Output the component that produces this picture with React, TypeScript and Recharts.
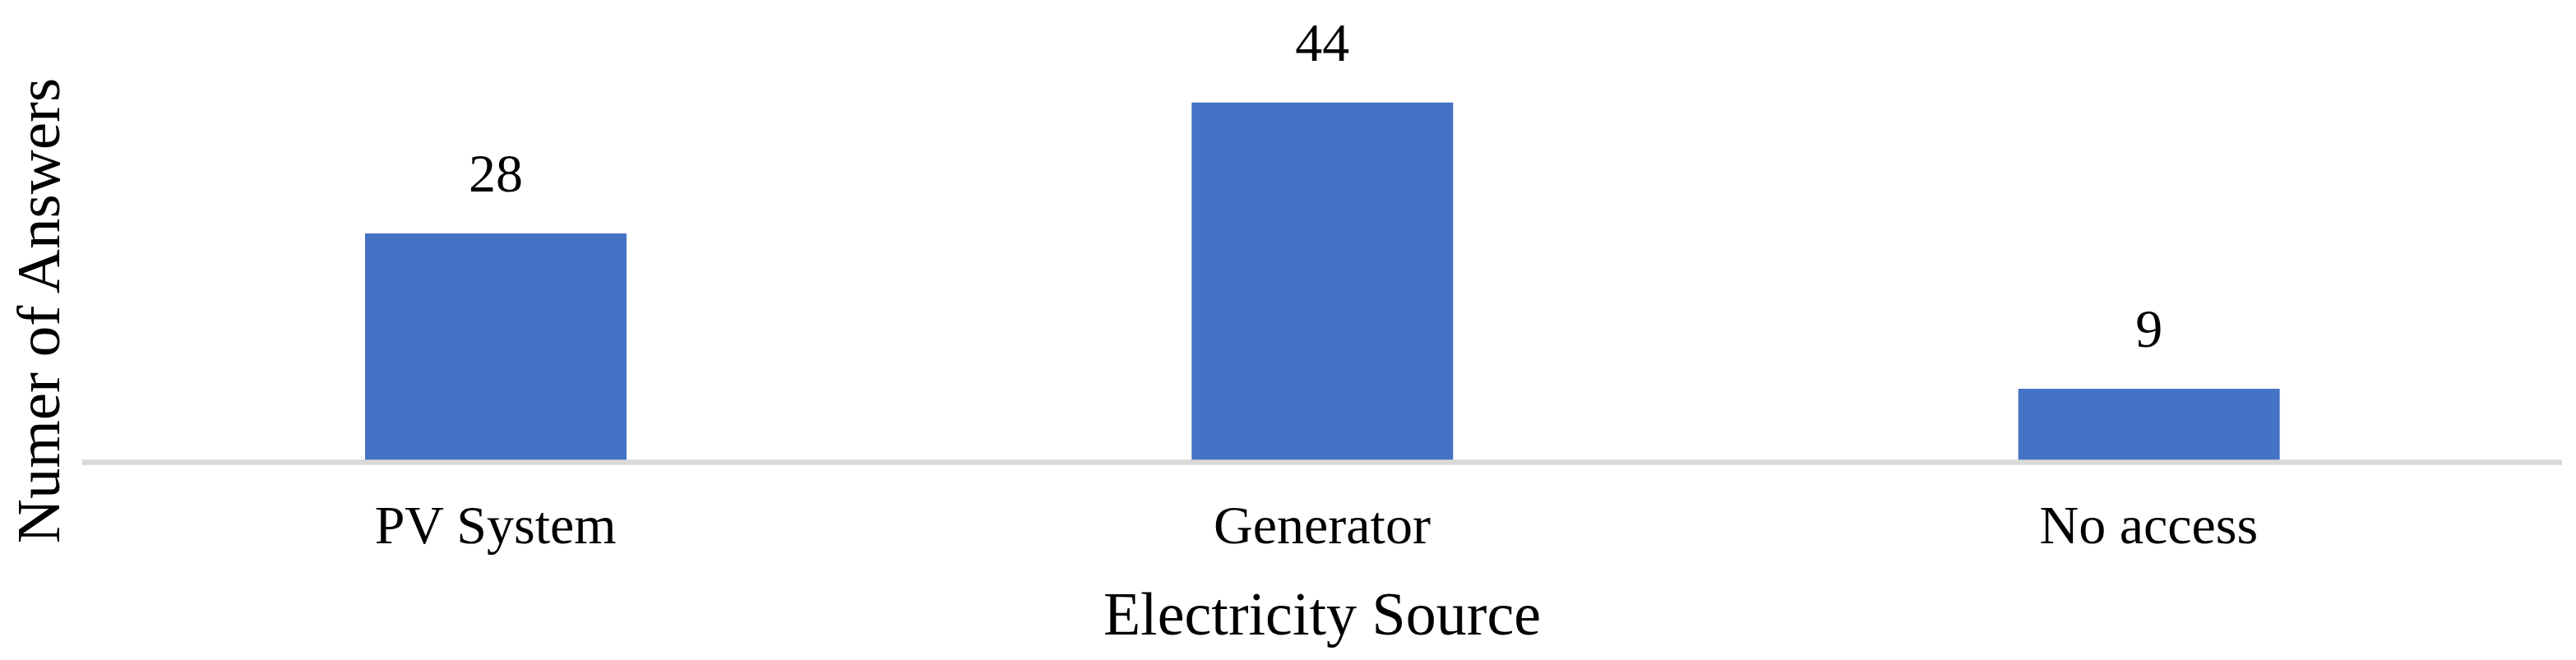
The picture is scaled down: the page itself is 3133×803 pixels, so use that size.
import React from "react";
import { Bar, BarChart, LabelList, Label, ReferenceLine, XAxis, YAxis } from "recharts";

const sources = ["PV System", "Generator", "No access"];
const answers = [28, 44, 9];
const yDomain = [0, 50];

const data = sources.map((source, i) => ({ source, answers: answers[i] }));

const FONT = '"Liberation Serif", "Times New Roman", serif';

export default function App() {
  return (
    <div style={{ position: "absolute", left: 0, top: 0, background: "#fff" }}>
      <BarChart
        width={3133}
        height={803}
        data={data}
        margin={{ top: 65, right: 17, bottom: 0.5, left: 0 }}
        style={{ fontFamily: FONT }}
      >
        <XAxis
          dataKey="source"
          height={240}
          axisLine={false}
          tickLine={false}
          tickSize={0}
          tickMargin={52}
          tick={{ fontSize: 66, fill: "#000", fontFamily: FONT }}
        >
          <Label
            content={({ viewBox }: any) => (
              <text
                x={viewBox.x + viewBox.width / 2}
                y={viewBox.y + 209.5}
                textAnchor="middle"
                fontSize={74}
                fontFamily={FONT}
                fill="#000"
              >
                Electricity Source
              </text>
            )}
          />
        </XAxis>
        <YAxis width={100} domain={yDomain} tick={false} axisLine={false} tickLine={false}>
          <Label
            content={({ viewBox }: any) => {
              const cx = viewBox.x + 72;
              const cy = viewBox.y + 313;
              return (
                <text
                  x={cx}
                  y={cy}
                  transform={`rotate(-90, ${cx}, ${cy})`}
                  textAnchor="middle"
                  fontSize={75}
                  fontFamily={FONT}
                  fill="#000"
                >
                  Numer of Answers
                </text>
              );
            }}
          />
        </YAxis>
        <Bar dataKey="answers" fill="#4472C4" barSize={318} isAnimationActive={false}>
          <LabelList dataKey="answers" position="top" offset={51} fill="#000" fontSize={66} fontFamily={FONT} />
        </Bar>
        <ReferenceLine y={0} stroke="#D9D9D9" strokeWidth={6.5} />
      </BarChart>
    </div>
  );
}
